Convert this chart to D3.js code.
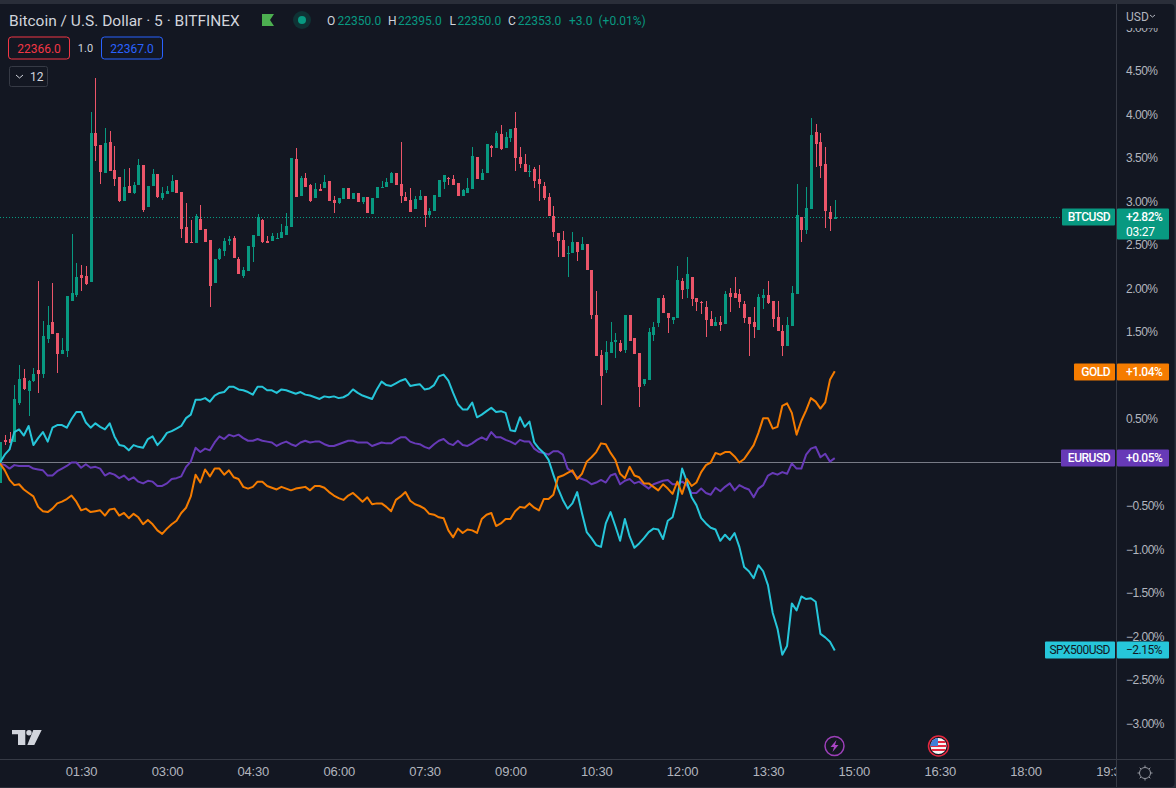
<!DOCTYPE html>
<html>

<head>
    <meta charset="utf-8">
    <style>
        html, body {
            margin: 0;
            padding: 0;
            background: #2a2e39;
            overflow: hidden;
        }

        svg {
            display: block;
            font-family: Roboto, sans-serif;
        }

        .price .domain, .time .domain {
            display: none;
        }

        .price .tick text, .time .tick text {
            fill: #b2b5be;
        }

        .price .tick text {
            font-size: 12px;
            letter-spacing: -0.5px;
        }

        .time .tick text {
            font-size: 13px;
            letter-spacing: -0.2px;
        }
    </style>
</head>

<body>
    <svg width="1176" height="788"></svg>

    <script src="https://d3js.org/d3.v7.min.js"></script>

    <script>
        // BTC candles in percent from session start, one value per 5 min bar
        let btcOpen = [
            -0.24, .26, .27, .24, .68, .97, .82, .94, 1.06, 1.02,
            1.42, 1.61, 1.49, 1.25, 1.28, 1.86, 1.93, 2.16, 2.14, 2.07,
            3.79, 3.65, 3.33, 3.68, 3.36, 3.28, 3.01, 3.18, 3.10, 3.19,
            3.42, 2.94, 3.18, 3.32, 3.04, 3.09, 3.11, 3.25, 3.11, 2.71,
            2.53, 2.52, 2.80, 2.68, 2.56, 2.06, 2.34, 2.43, 2.55, 2.58,
            2.34, 2.14, 2.20, 2.48, 2.60, 2.79, 2.55, 2.55, 2.57, 2.58,
            2.61, 2.71, 3.49, 3.06, 3.27, 3.19, 3.04, 3.14, 3.16, 3.24,
            3.02, 2.98, 3.03, 3.16, 3.03, 3.10, 2.99, 3.05, 2.86, 3.04,
            3.16, 3.17, 3.21, 3.33, 3.20, 3.05, 3.02, 2.91, 3.02, 3.06,
            2.84, 2.89, 3.05, 3.22, 3.27, 3.26, 3.21, 3.06, 3.10, 3.14,
            3.51, 3.25, 3.33, 3.64, 3.61, 3.78, 3.61, 3.73, 3.84, 3.51,
            3.43, 3.34, 3.37, 3.26, 3.18, 3.05, 2.83, 2.64, 2.56, 2.40,
            2.41, 2.53, 2.44, 2.51, 2.21, 1.70, 1.24, 1.06, 1.26, 1.39,
            1.37, 1.29, 1.70, 1.43, 1.26, .90, .95, 1.47, 1.60, 1.89,
            1.72, 1.64, 1.66, 2.09, 1.99, 2.13, 1.89, 1.84, 1.79, 1.65,
            1.57, 1.61, 1.59, 1.95, 1.95, 1.94, 1.82, 1.67, 1.61, 1.52,
            1.89, 1.93, 1.86, 1.67, 1.51, 1.34, 1.57, 1.94, 2.82, 2.67,
            2.91, 3.80, 3.68, 3.43, 2.88, 2.80
        ];
        let btcHigh = [
            .24, .32, .35, .89, 1.12, 1.07, .95, 1.09, 2.09, 1.63,
            1.80, 2.06, 1.49, 1.43, 1.91, 2.63, 2.29, 2.27, 2.26, 4.03,
            4.42, 3.65, 3.84, 3.81, 3.64, 3.28, 3.37, 3.39, 3.22, 3.49,
            3.42, 3.18, 3.37, 3.32, 3.17, 3.18, 3.30, 3.25, 3.11, 2.98,
            2.79, 2.86, 2.96, 2.68, 2.56, 2.34, 2.47, 2.58, 2.60, 2.60,
            2.36, 2.25, 2.49, 2.61, 2.86, 2.80, 2.60, 2.64, 2.64, 2.74,
            2.87, 3.50, 3.62, 3.29, 3.33, 3.20, 3.21, 3.20, 3.30, 3.24,
            3.06, 3.04, 3.16, 3.16, 3.10, 3.10, 3.05, 3.05, 3.04, 3.17,
            3.24, 3.27, 3.34, 3.33, 3.68, 3.11, 3.16, 3.06, 3.13, 3.06,
            2.93, 3.07, 3.25, 3.30, 3.28, 3.30, 3.21, 3.14, 3.27, 3.63,
            3.51, 3.37, 3.66, 3.65, 3.81, 3.88, 3.80, 3.83, 4.03, 3.63,
            3.55, 3.42, 3.40, 3.42, 3.22, 3.10, 2.95, 2.64, 2.66, 2.49,
            2.65, 2.53, 2.59, 2.51, 2.21, 1.97, 1.29, 1.40, 1.61, 1.49,
            1.41, 1.70, 1.70, 1.43, 1.26, .96, 1.55, 1.61, 1.89, 1.93,
            1.72, 1.67, 2.26, 2.12, 2.36, 2.13, 1.89, 1.86, 1.86, 1.74,
            1.67, 1.68, 1.97, 2.01, 2.13, 1.99, 1.86, 1.67, 1.79, 1.94,
            1.99, 2.09, 1.86, 1.86, 1.58, 1.67, 2.03, 3.20, 2.82, 3.17,
            3.96, 3.89, 3.79, 3.63, 2.95, 3.02
        ];
        let btcLow = [
            -.24, .20, .22, .24, .66, .83, .53, .93, .80, .97,
            1.37, 1.48, 1.03, 1.25, 1.21, 1.86, 1.90, 1.97, 2.04, 2.07,
            3.47, 3.20, 3.33, 3.35, 3.18, 2.99, 3.01, 3.10, 3.09, 3.19,
            2.88, 2.94, 3.18, 3.04, 3.02, 3.09, 3.11, 3.10, 2.58, 2.52,
            2.52, 2.52, 2.67, 2.53, 1.79, 2.06, 2.33, 2.37, 2.50, 2.35,
            2.17, 2.12, 2.20, 2.30, 2.60, 2.52, 2.52, 2.55, 2.57, 2.58,
            2.61, 2.71, 3.05, 3.06, 3.17, 2.99, 3.04, 3.12, 3.16, 3.01,
            2.87, 2.97, 3.03, 3.03, 3.03, 2.99, 2.97, 2.87, 2.86, 3.04,
            3.16, 3.17, 3.21, 3.19, 2.98, 3.01, 2.88, 2.91, 3.02, 2.71,
            2.82, 2.89, 3.05, 3.14, 3.19, 3.19, 3.06, 3.06, 3.10, 3.14,
            3.26, 3.25, 3.33, 3.51, 3.61, 3.59, 3.61, 3.68, 3.35, 3.38,
            3.34, 3.28, 3.16, 3.01, 3.02, 2.83, 2.59, 2.36, 2.36, 2.13,
            2.41, 2.32, 2.44, 2.21, 1.65, 1.22, .66, 1.03, 1.26, 1.20,
            1.27, 1.26, 1.40, 1.25, .64, .88, .95, 1.40, 1.56, 1.72,
            1.49, 1.59, 1.66, 1.88, 1.89, 1.80, 1.74, 1.71, 1.44, 1.57,
            1.57, 1.51, 1.59, 1.73, 1.89, 1.78, 1.60, 1.22, 1.43, 1.52,
            1.76, 1.82, 1.56, 1.51, 1.22, 1.34, 1.57, 1.94, 2.53, 2.63,
            2.91, 3.40, 3.27, 2.70, 2.66, 2.80
        ];
        let btcClose = [
            .24, .23, .22, .73, .96, .84, .94, 1.02, 1.02, 1.45,
            1.58, 1.48, 1.25, 1.29, 1.91, 1.95, 2.13, 2.12, 2.05, 3.79,
            3.64, 3.34, 3.67, 3.35, 3.26, 3.01, 3.17, 3.10, 3.19, 3.42,
            2.90, 3.18, 3.32, 3.05, 3.10, 3.12, 3.24, 3.10, 2.68, 2.52,
            2.52, 2.83, 2.67, 2.53, 2.03, 2.34, 2.45, 2.55, 2.57, 2.35,
            2.17, 2.21, 2.49, 2.61, 2.82, 2.53, 2.52, 2.60, 2.58, 2.65,
            2.72, 3.50, 3.05, 3.27, 3.17, 3.01, 3.14, 3.12, 3.22, 3.01,
            2.98, 3.04, 3.16, 3.03, 3.10, 2.99, 3.05, 2.87, 3.04, 3.17,
            3.17, 3.22, 3.33, 3.19, 3.06, 3.01, 2.88, 3.03, 3.06, 2.84,
            2.89, 3.07, 3.25, 3.30, 3.26, 3.19, 3.06, 3.13, 3.16, 3.52,
            3.26, 3.33, 3.66, 3.61, 3.79, 3.60, 3.74, 3.83, 3.50, 3.43,
            3.34, 3.35, 3.24, 3.20, 3.04, 2.83, 2.65, 2.55, 2.36, 2.41,
            2.53, 2.42, 2.51, 2.21, 1.70, 1.22, .99, 1.27, 1.39, 1.41,
            1.28, 1.70, 1.40, 1.25, .87, .96, 1.50, 1.56, 1.89, 1.72,
            1.66, 1.67, 2.10, 1.98, 2.17, 1.88, 1.84, 1.83, 1.64, 1.57,
            1.61, 1.58, 1.94, 1.90, 1.89, 1.84, 1.66, 1.59, 1.56, 1.90,
            1.93, 1.83, 1.65, 1.51, 1.34, 1.58, 1.95, 2.84, 2.67, 2.93,
            3.76, 3.66, 3.41, 2.89, 2.80, 2.82
        ];

        // comparison symbols, same bars
        let spxValues = [
            0, .09, .15, .35, .38, .31, .42, .20, .28, .35,
            .24, .40, .43, .43, .40, .50, .58, .58, .46, .40,
            .45, .41, .38, .45, .30, .20, .19, .14, .20, .18,
            .17, .27, .30, .20, .26, .34, .36, .39, .42, .51,
            .55, .72, .72, .74, .70, .77, .80, .81, .87, .87,
            .84, .83, .81, .78, .87, .87, .83, .83, .80, .84,
            .83, .81, .79, .81, .78, .77, .75, .73, .76, .75,
            .76, .74, .75, .78, .84, .80, .77, .75, .73, .84,
            .93, .89, .88, .91, .94, .96, .88, .89, .90, .84,
            .85, .89, .99, 1.01, .94, .80, .67, .61, .61, .69,
            .52, .55, .59, .63, .58, .59, .57, .37, .36, .52,
            .41, .47, .23, .16, .11, .03, -.14, -.30, -.43, -.53,
            -.47, -.34, -.58, -.80, -.87, -.95, -.97, -.70, -.57, -.73,
            -.90, -.65, -.85, -.98, -.93, -.87, -.80, -.76, -.77, -.88,
            -.67, -.63, -.41, -.07, -.22, -.40, -.49, -.64, -.70, -.75,
            -.77, -.90, -.83, -.89, -.81, -.97, -1.20, -1.25, -1.33, -1.18,
            -1.25, -1.41, -1.73, -1.91, -2.21, -2.11, -1.62, -1.70, -1.54, -1.57,
            -1.56, -1.60, -1.97, -2.01, -2.06, -2.16
        ];
        let eurValues = [
            -.01, -.03, -.07, -.03, -.04, -.04, -.04, -.07, -.08, -.09,
            -.15, -.15, -.10, -.07, -.04, 0, 0, -.06, -.02, -.06,
            -.05, -.07, -.15, -.12, -.14, -.18, -.15, -.20, -.17, -.22,
            -.24, -.21, -.22, -.27, -.27, -.24, -.19, -.18, -.16, -.05,
            .01, .17, .12, .16, .14, .23, .30, .27, .32, .30,
            .32, .28, .25, .25, .27, .25, .24, .23, .19, .22,
            .24, .21, .19, .23, .25, .23, .24, .24, .21, .19,
            .19, .21, .23, .25, .25, .23, .23, .23, .19, .21,
            .23, .22, .22, .26, .29, .29, .24, .22, .21, .18,
            .16, .21, .25, .27, .22, .20, .25, .20, .19, .22,
            .26, .29, .26, .35, .29, .29, .26, .24, .21, .26,
            .24, .24, .16, .12, .11, .09, .13, .13, .09, -.07,
            -.11, -.17, -.19, -.21, -.25, -.23, -.20, -.23, -.15, -.13,
            -.25, -.21, -.19, -.24, -.22, -.26, -.30, -.25, -.23, -.21,
            -.20, -.25, -.25, -.22, -.26, -.35, -.35, -.30, -.35, -.37,
            -.29, -.33, -.28, -.24, -.32, -.26, -.29, -.31, -.40, -.30,
            -.26, -.15, -.12, -.14, -.11, -.13, -.01, -.07, -.07, .09,
            .16, .18, .06, .10, .01, .05
        ];
        let goldValues = [
            -.01, -.09, -.20, -.26, -.25, -.31, -.35, -.39, -.51, -.56,
            -.57, -.53, -.47, -.45, -.42, -.38, -.45, -.55, -.53, -.57,
            -.56, -.55, -.61, -.54, -.53, -.61, -.58, -.64, -.59, -.63,
            -.71, -.66, -.71, -.78, -.82, -.76, -.71, -.67, -.58, -.52,
            -.39, -.14, -.23, -.08, -.16, -.07, -.07, -.14, -.09, -.17,
            -.19, -.28, -.30, -.28, -.22, -.22, -.27, -.29, -.31, -.28,
            -.30, -.32, -.30, -.29, -.28, -.32, -.27, -.27, -.29, -.34,
            -.38, -.41, -.43, -.38, -.35, -.40, -.45, -.40, -.48, -.47,
            -.47, -.51, -.56, -.43, -.39, -.34, -.44, -.48, -.50, -.53,
            -.59, -.60, -.63, -.64, -.78, -.86, -.76, -.81, -.77, -.78,
            -.81, -.65, -.60, -.58, -.73, -.70, -.65, -.65, -.56, -.51,
            -.52, -.47, -.52, -.55, -.42, -.42, -.37, -.17, -.15, -.12,
            -.09, -.19, -.13, .01, .06, .12, .22, .21, .11, .03,
            -.13, -.18, -.05, -.15, -.17, -.24, -.24, -.28, -.32, -.25,
            -.30, -.36, -.22, -.36, -.19, -.27, -.23, -.11, -.03, 0,
            .11, .09, .12, .12, .07, 0, .04, .12, .20, .34,
            .51, .51, .39, .41, .65, .68, .57, .32, .48, .60,
            .74, .70, .62, .69, .95, 1.05
        ];

        // 0.00% and 1.00% sit behind the EURUSD and GOLD tags so they are left out
        let priceTicks = [-3, -2.5, -2, -1.5, -1, -.5, .5, 1.5, 2, 2.5, 3, 3.5, 4, 4.5, 5];
        let timeTicks = [90, 180, 270, 360, 450, 540, 630, 720, 810, 900, 990, 1080, 1170];
        let timeLabels = ["01:30", "03:00", "04:30", "06:00", "07:30", "09:00", "10:30", "12:00", "13:30", "15:00", "16:30", "18:00", "19:30"];

        let tagNames = ["SPX500USD", "EURUSD", "GOLD", "BTCUSD"];
        let tagValues = [-2.15, .05, 1.04, 2.82];
        let tagText = ["−2.15%", "+0.05%", "+1.04%", "+2.82%"];
        let tagLeft = [1045, 1061, 1074, 1062];
        let tagColors = ["#26c6da", "#673ab7", "#f57c00", "#089981"];
        let tagInk = ["#131722", "#ffffff", "#ffffff", "#ffffff"];

        let upColor = "#089981";
        let downColor = "#ec5569";
        let paneRight = 1116;
        let paneBottom = 759;

        let barTime = btcOpen.map((d, i) => 5 + i * 5);

        let svg = d3.select("svg");

        let x = d3.scaleLinear()
            .domain([5, 1170])
            .range([0, 233 * 4.77]);

        let y = d3.scaleLinear()
            .domain([0, 1])
            .range([462.5, 375.5]);

        svg.append("defs").append("clipPath")
            .attr("id", "pane")
            .append("rect")
            .attr("width", paneRight)
            .attr("height", paneBottom);

        svg.append("defs").append("clipPath")
            .attr("id", "timeClip")
            .append("rect")
            .attr("y", paneBottom)
            .attr("width", paneRight)
            .attr("height", 29);

        svg.append("defs").append("clipPath")
            .attr("id", "priceClip")
            .append("rect")
            .attr("x", paneRight)
            .attr("y", 28)
            .attr("width", 60)
            .attr("height", paneBottom - 28);

        // window frame, the chart card has a rounded corner top right
        svg.append("rect")
            .attr("x", -10)
            .attr("y", 4)
            .attr("width", 1184.5)
            .attr("height", 783)
            .attr("rx", 4)
            .attr("fill", "#131722");

        let pane = svg.append("g").attr("clip-path", "url(#pane)");

        // last price and zero lines
        pane.append("line")
            .attr("x1", 0)
            .attr("x2", tagLeft[3])
            .attr("y1", Math.round(y(tagValues[3])) + .5)
            .attr("y2", Math.round(y(tagValues[3])) + .5)
            .attr("stroke", upColor)
            .attr("stroke-dasharray", "1 2")
            .attr("shape-rendering", "crispEdges");

        pane.append("line")
            .attr("x1", 0)
            .attr("x2", tagLeft[1])
            .attr("y1", y(0))
            .attr("y2", y(0))
            .attr("stroke", "#787b86");

        // candles
        let barColor = i => btcClose[i] >= btcOpen[i] ? upColor : downColor;

        pane.append("g")
            .attr("shape-rendering", "crispEdges")
            .selectAll("rect")
            .data(barTime)
            .join("rect")
            .attr("x", d => Math.round(x(d)))
            .attr("width", 1)
            .attr("y", (d, i) => y(btcHigh[i]))
            .attr("height", (d, i) => y(btcLow[i]) - y(btcHigh[i]))
            .attr("fill", (d, i) => barColor(i));

        pane.append("g")
            .attr("shape-rendering", "crispEdges")
            .selectAll("rect")
            .data(barTime)
            .join("rect")
            .attr("x", d => Math.round(x(d)) - 1)
            .attr("width", 3)
            .attr("y", (d, i) => y(Math.max(btcOpen[i], btcClose[i])))
            .attr("height", (d, i) => Math.max(1, Math.abs(y(btcOpen[i]) - y(btcClose[i]))))
            .attr("fill", (d, i) => barColor(i));

        // comparison lines
        let line = d3.line()
            .x((d, i) => x(barTime[i]))
            .y(d => y(d));

        pane.append("path")
            .attr("d", line(eurValues))
            .attr("fill", "none")
            .attr("stroke", tagColors[1])
            .attr("stroke-width", 2)
            .attr("stroke-linejoin", "round");

        pane.append("path")
            .attr("d", line(spxValues))
            .attr("fill", "none")
            .attr("stroke", tagColors[0])
            .attr("stroke-width", 2)
            .attr("stroke-linejoin", "round");

        pane.append("path")
            .attr("d", line(goldValues))
            .attr("fill", "none")
            .attr("stroke", tagColors[2])
            .attr("stroke-width", 2)
            .attr("stroke-linejoin", "round");

        // axes
        let priceAxis = d3.axisRight(y)
            .tickValues(priceTicks)
            .tickSize(0)
            .tickPadding(10)
            .tickFormat(d => d3.format(".2f")(d) + "%");

        svg.append("g")
            .attr("clip-path", "url(#priceClip)")
            .append("g")
            .attr("class", "price")
            .attr("transform", `translate(${paneRight},0)`)
            .call(priceAxis);

        let timeAxis = d3.axisBottom(x)
            .tickValues(timeTicks)
            .tickSize(0)
            .tickPadding(8)
            .tickFormat((d, i) => timeLabels[i]);

        svg.append("g")
            .attr("clip-path", "url(#timeClip)")
            .append("g")
            .attr("class", "time")
            .attr("transform", `translate(0,${paneBottom})`)
            .call(timeAxis);

        svg.append("line")
            .attr("x1", paneRight + .5)
            .attr("x2", paneRight + .5)
            .attr("y1", 4)
            .attr("y2", 787)
            .attr("stroke", "#363a45");

        svg.append("line")
            .attr("x1", 0)
            .attr("x2", 1174.5)
            .attr("y1", paneBottom + .5)
            .attr("y2", paneBottom + .5)
            .attr("stroke", "#363a45");

        // value tags on the price scale
        let tags = svg.append("g")
            .selectAll("g")
            .data(tagNames)
            .join("g");

        tags.append("rect")
            .attr("x", (d, i) => tagLeft[i])
            .attr("y", (d, i) => Math.round(y(tagValues[i])) - 8.5)
            .attr("width", (d, i) => paneRight - 1 - tagLeft[i])
            .attr("height", 17)
            .attr("rx", 1)
            .attr("fill", (d, i) => tagColors[i]);

        tags.append("rect")
            .attr("x", paneRight + 1)
            .attr("y", (d, i) => Math.round(y(tagValues[i])) - 8.5)
            .attr("width", 52)
            .attr("height", (d, i) => i == 3 ? 31 : 17)
            .attr("rx", 1)
            .attr("fill", (d, i) => tagColors[i]);

        tags.append("text")
            .attr("x", paneRight - 6)
            .attr("y", (d, i) => Math.round(y(tagValues[i])) + 4)
            .attr("text-anchor", "end")
            .attr("font-size", 12)
            .attr("font-weight", (d, i) => i == 0 ? 400 : 500)
            .attr("letter-spacing", -0.5)
            .attr("fill", (d, i) => tagInk[i])
            .text(d => d);

        tags.append("text")
            .attr("x", paneRight + 10)
            .attr("y", (d, i) => Math.round(y(tagValues[i])) + 4)
            .attr("font-size", 12)
            .attr("font-weight", (d, i) => i == 0 ? 400 : 500)
            .attr("letter-spacing", -0.5)
            .attr("fill", (d, i) => tagInk[i])
            .text((d, i) => tagText[i]);

        svg.append("text")
            .attr("x", paneRight + 10)
            .attr("y", 236)
            .attr("font-size", 12)
            .attr("letter-spacing", -0.2)
            .attr("fill", "#ffffff")
            .text("03:27");

        // header
        svg.append("text")
            .attr("x", 9)
            .attr("y", 26)
            .attr("font-size", 15.5)
            .attr("fill", "#d1d4dc")
            .text("Bitcoin / U.S. Dollar · 5 · BITFINEX");

        svg.append("path")
            .attr("d", "M262 14H274L270 20L274 26H262Z")
            .attr("fill", "#4caf50");

        svg.append("circle")
            .attr("cx", 302)
            .attr("cy", 20)
            .attr("r", 9)
            .attr("fill", "#0f3234");

        svg.append("circle")
            .attr("cx", 302)
            .attr("cy", 20)
            .attr("r", 4)
            .attr("fill", upColor);

        let ohlcLabels = ["O", "22350.0", "H", "22395.0", "L", "22350.0", "C", "22353.0", "+3.0", "(+0.01%)"];
        let ohlcX = [327, 337.5, 388, 398, 449.5, 457.5, 508, 517.7, 569, 598.5];

        svg.append("g")
            .selectAll("text")
            .data(ohlcLabels)
            .join("text")
            .attr("x", (d, i) => ohlcX[i])
            .attr("y", 25)
            .attr("font-size", 12)
            .attr("fill", (d, i) => i < 8 && i % 2 == 0 ? "#d1d4dc" : upColor)
            .text(d => d);

        // bid, ask and collapsed indicators
        svg.append("rect")
            .attr("x", 8.5)
            .attr("y", 37)
            .attr("width", 61)
            .attr("height", 22)
            .attr("rx", 3)
            .attr("fill", "none")
            .attr("stroke", "#f23645");

        svg.append("text")
            .attr("x", 39)
            .attr("y", 53)
            .attr("text-anchor", "middle")
            .attr("font-size", 12)
            .attr("fill", "#f23645")
            .text("22366.0");

        svg.append("text")
            .attr("x", 85.5)
            .attr("y", 52)
            .attr("text-anchor", "middle")
            .attr("font-size", 11)
            .attr("fill", "#d1d4dc")
            .text("1.0");

        svg.append("rect")
            .attr("x", 101.5)
            .attr("y", 37)
            .attr("width", 61)
            .attr("height", 22)
            .attr("rx", 3)
            .attr("fill", "none")
            .attr("stroke", "#2962ff");

        svg.append("text")
            .attr("x", 132)
            .attr("y", 53)
            .attr("text-anchor", "middle")
            .attr("font-size", 12)
            .attr("fill", "#2962ff")
            .text("22367.0");

        svg.append("rect")
            .attr("x", 9.5)
            .attr("y", 66.5)
            .attr("width", 38)
            .attr("height", 20)
            .attr("rx", 2)
            .attr("fill", "none")
            .attr("stroke", "#363a45");

        svg.append("path")
            .attr("d", "M16 75L19.5 78L23 75")
            .attr("fill", "none")
            .attr("stroke", "#d1d4dc");

        svg.append("text")
            .attr("x", 30)
            .attr("y", 81)
            .attr("font-size", 12)
            .attr("fill", "#d1d4dc")
            .text("12");

        // currency selector
        svg.append("text")
            .attr("x", 1126)
            .attr("y", 21)
            .attr("font-size", 12)
            .attr("fill", "#b2b5be")
            .text("USD");

        svg.append("path")
            .attr("d", "M1150 15L1152.5 17L1155 15")
            .attr("fill", "none")
            .attr("stroke", "#b2b5be");

        // tradingview logo
        svg.append("path")
            .attr("d", "M12 730H25.3V745H18V734.3H12Z M33.3 730H41.7L34.3 745H27.3Z")
            .attr("fill", "#d1d4dc");

        svg.append("circle")
            .attr("cx", 29)
            .attr("cy", 732.7)
            .attr("r", 2.7)
            .attr("fill", "#d1d4dc");

        // event markers
        svg.append("circle")
            .attr("cx", 834.5)
            .attr("cy", 746)
            .attr("r", 9.5)
            .attr("fill", "#131722")
            .attr("stroke", "#9c3fb8")
            .attr("stroke-width", 1.5);

        svg.append("path")
            .attr("d", "M836.5 740L830.5 747H834L832.5 752L838.5 745H835Z")
            .attr("fill", "#a845c4");

        svg.append("circle")
            .attr("cx", 938.5)
            .attr("cy", 746)
            .attr("r", 10)
            .attr("fill", "#131722")
            .attr("stroke", "#e5283f")
            .attr("stroke-width", 1.5);

        svg.append("circle")
            .attr("cx", 938.5)
            .attr("cy", 746)
            .attr("r", 8)
            .attr("fill", "#f4f4f4");

        svg.append("defs").append("clipPath")
            .attr("id", "flag")
            .append("circle")
            .attr("cx", 938.5)
            .attr("cy", 746)
            .attr("r", 8);

        let flag = svg.append("g").attr("clip-path", "url(#flag)");

        flag.append("path")
            .attr("d", "M930 741H947V743H930Z M930 745H947V747H930Z M930 749H947V751H930Z")
            .attr("fill", "#e5283f");

        flag.append("rect")
            .attr("x", 930)
            .attr("y", 738)
            .attr("width", 8)
            .attr("height", 8)
            .attr("fill", "#3f7fd8");

        // settings icon
        svg.append("circle")
            .attr("cx", 1145)
            .attr("cy", 773)
            .attr("r", 5.5)
            .attr("fill", "none")
            .attr("stroke", "#9598a1");

        svg.append("path")
            .attr("d", "M1145 765.5V767.5M1145 778.5V780.5M1137.5 773H1139.5M1150.5 773H1152.5M1139.7 767.7L1141 769M1149 777L1150.3 778.3M1150.3 767.7L1149 769M1141 777L1139.7 778.3")
            .attr("stroke", "#9598a1");
    </script>
</body>

</html>
